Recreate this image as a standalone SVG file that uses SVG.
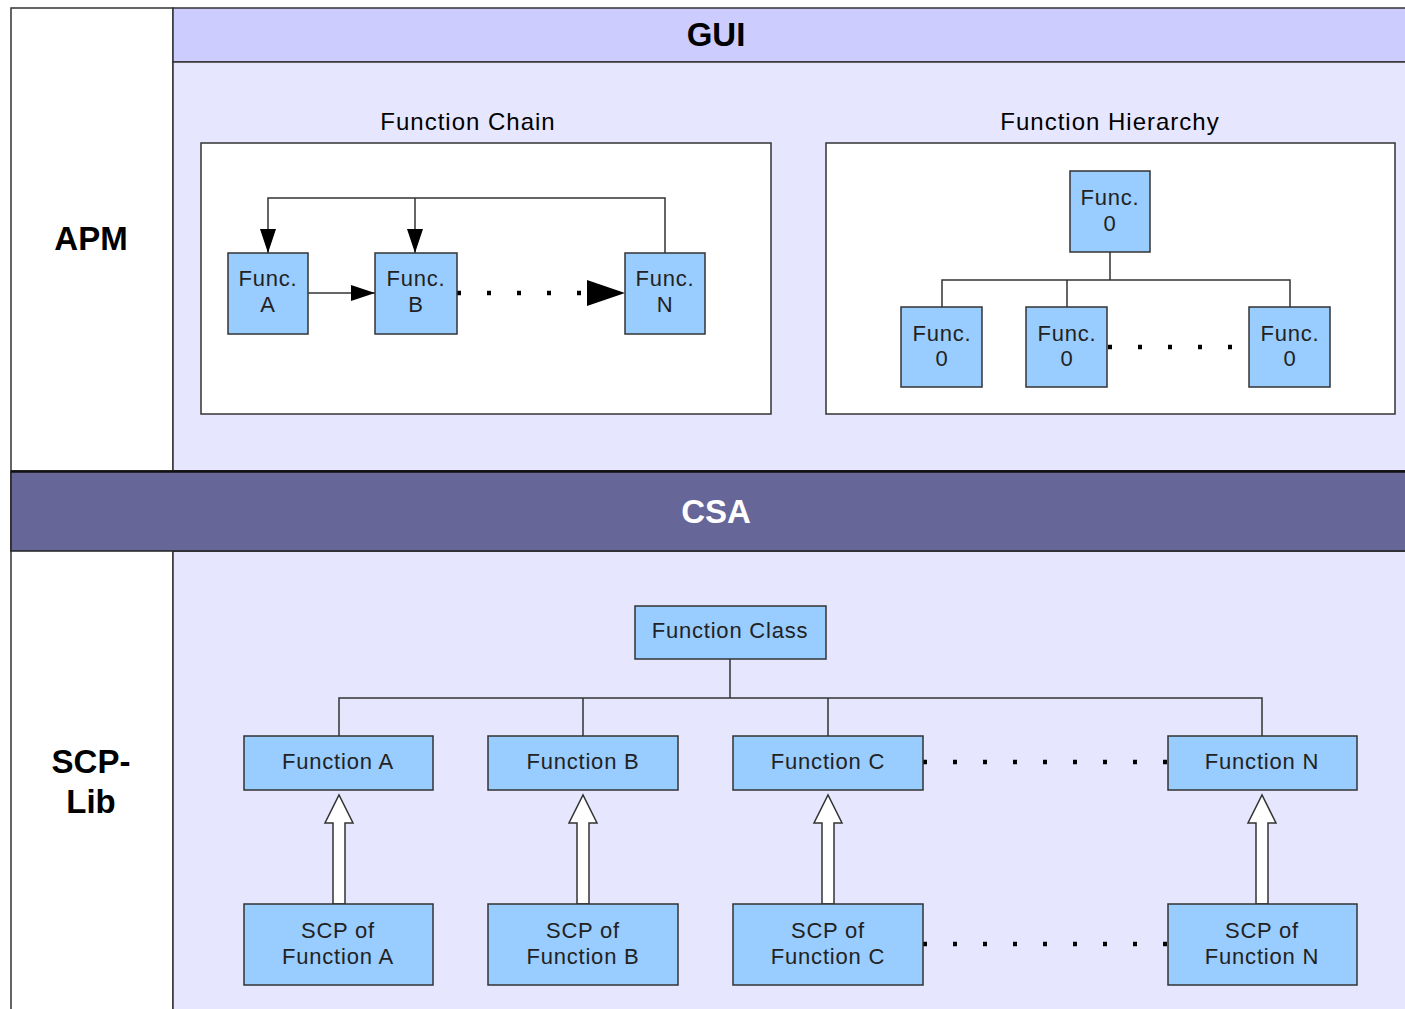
<svg xmlns="http://www.w3.org/2000/svg" width="1405" height="1009" viewBox="0 0 1405 1009">
<defs>
<style>
.lane{fill:#E6E6FF;stroke:#333;stroke-width:1.5}
.side{fill:#FFFFFF;stroke:#333;stroke-width:1.5}
.frame{fill:#FFFFFF;stroke:#333;stroke-width:1.5}
.node{fill:#99CCFF;stroke:#333;stroke-width:1.5}
.ln{fill:none;stroke:#333;stroke-width:1.5}
.dots{fill:none;stroke:#000;stroke-width:4.5;stroke-dasharray:4 26}
.hollow{fill:#FFFFFF;stroke:#333;stroke-width:1.5}
.big{font-family:"Liberation Sans",Arial,sans-serif;font-weight:bold;font-size:33px;text-anchor:middle;fill:#000}
.title{font-family:"Liberation Sans",Arial,sans-serif;font-size:24px;text-anchor:middle;fill:#000;letter-spacing:1px}
.lbl{font-family:"Liberation Sans",Arial,sans-serif;font-size:22px;text-anchor:middle;fill:#222;letter-spacing:0.8px}
</style>
<marker id="ah" viewBox="0 0 24 16" refX="24" refY="8" markerWidth="24" markerHeight="16" markerUnits="userSpaceOnUse" orient="auto">
<path d="M0,0 L24,8 L0,16 z" fill="#000"/>
</marker>
<marker id="ahBig" viewBox="0 0 38 26" refX="38" refY="13" markerWidth="38" markerHeight="26" markerUnits="userSpaceOnUse" orient="auto">
<path d="M0,0 L38,13 L0,26 z" fill="#000"/>
</marker>
</defs>

<g id="lanes">
<rect class="side" x="11" y="8" width="162" height="1010"/>
<rect x="173" y="8" width="1240" height="54" fill="#CCCCFF" stroke="#333" stroke-width="1.5"/>
<rect class="lane" x="173" y="62" width="1240" height="409"/>
<rect class="lane" x="173" y="551" width="1240" height="470"/>
<rect x="11" y="471" width="1402" height="80" fill="#666699" stroke="#222" stroke-width="1.5"/>
<line x1="11" y1="471.5" x2="1405" y2="471.5" stroke="#111" stroke-width="2.5"/>
<text class="big" x="716" y="46">GUI</text>
<text class="big" x="91" y="250">APM</text>
<text class="big" x="716" y="523" style="fill:#FFFFFF">CSA</text>
<text class="big" x="91" y="773">SCP-</text>
<text class="big" x="91" y="813">Lib</text>
</g>

<g id="function-chain">
<text class="title" x="468" y="130">Function Chain</text>
<rect class="frame" x="201" y="143" width="570" height="271"/>
</g>

<g id="function-hierarchy">
<text class="title" x="1110" y="130">Function Hierarchy</text>
<rect class="frame" x="826" y="143" width="569" height="271"/>
</g>

<g id="connectors">
<path class="ln" d="M665,253 V198 H268 V253" marker-end="url(#ah)"/>
<path class="ln" d="M415,198 V253" marker-end="url(#ah)"/>
<path class="ln" d="M308,293 H375" marker-end="url(#ah)"/>
<line class="dots" x1="457" y1="293" x2="600" y2="293"/>
<path d="M587,293 H625" fill="none" stroke="none" marker-end="url(#ahBig)"/>
<path class="ln" d="M1110,252 V280 M942,307 V280 H1290 V307 M1067,280 V307"/>
<line class="dots" x1="1108" y1="347" x2="1250" y2="347"/>
<path class="ln" d="M730,659 V698 M339,736 V698 H1262 V736 M583,698 V736 M828,698 V736"/>
<line class="dots" x1="923" y1="762" x2="1170" y2="762"/>
<line class="dots" x1="923" y1="944" x2="1170" y2="944"/>
<polygon class="hollow" points="333,904 333,823 325,823 339,795 353,823 345,823 345,904"/>
<polygon class="hollow" points="577,904 577,823 569,823 583,795 597,823 589,823 589,904"/>
<polygon class="hollow" points="822,904 822,823 814,823 828,795 842,823 834,823 834,904"/>
<polygon class="hollow" points="1256,904 1256,823 1248,823 1262,795 1276,823 1268,823 1268,904"/>
</g>

<g id="func-a"><rect class="node" x="228" y="253" width="80" height="81"/><text class="lbl" x="268" y="286">Func.</text><text class="lbl" x="268" y="312">A</text></g>
<g id="func-b"><rect class="node" x="375" y="253" width="82" height="81"/><text class="lbl" x="416" y="286">Func.</text><text class="lbl" x="416" y="312">B</text></g>
<g id="func-n"><rect class="node" x="625" y="253" width="80" height="81"/><text class="lbl" x="665" y="286">Func.</text><text class="lbl" x="665" y="312">N</text></g>

<g id="func-0-top"><rect class="node" x="1070" y="171" width="80" height="81"/><text class="lbl" x="1110" y="205">Func.</text><text class="lbl" x="1110" y="231">0</text></g>
<g id="func-0-a"><rect class="node" x="901" y="307" width="81" height="80"/><text class="lbl" x="942" y="341">Func.</text><text class="lbl" x="942" y="366">0</text></g>
<g id="func-0-b"><rect class="node" x="1026" y="307" width="81" height="80"/><text class="lbl" x="1067" y="341">Func.</text><text class="lbl" x="1067" y="366">0</text></g>
<g id="func-0-c"><rect class="node" x="1249" y="307" width="81" height="80"/><text class="lbl" x="1290" y="341">Func.</text><text class="lbl" x="1290" y="366">0</text></g>

<g id="function-class"><rect class="node" x="635" y="606" width="191" height="53"/><text class="lbl" x="730" y="638">Function Class</text></g>

<g id="function-a"><rect class="node" x="244" y="736" width="189" height="54"/><text class="lbl" x="338" y="769">Function A</text></g>
<g id="function-b"><rect class="node" x="488" y="736" width="190" height="54"/><text class="lbl" x="583" y="769">Function B</text></g>
<g id="function-c"><rect class="node" x="733" y="736" width="190" height="54"/><text class="lbl" x="828" y="769">Function C</text></g>
<g id="function-n"><rect class="node" x="1168" y="736" width="189" height="54"/><text class="lbl" x="1262" y="769">Function N</text></g>

<g id="scp-a"><rect class="node" x="244" y="904" width="189" height="81"/><text class="lbl" x="338" y="938">SCP of</text><text class="lbl" x="338" y="964">Function A</text></g>
<g id="scp-b"><rect class="node" x="488" y="904" width="190" height="81"/><text class="lbl" x="583" y="938">SCP of</text><text class="lbl" x="583" y="964">Function B</text></g>
<g id="scp-c"><rect class="node" x="733" y="904" width="190" height="81"/><text class="lbl" x="828" y="938">SCP of</text><text class="lbl" x="828" y="964">Function C</text></g>
<g id="scp-n"><rect class="node" x="1168" y="904" width="189" height="81"/><text class="lbl" x="1262" y="938">SCP of</text><text class="lbl" x="1262" y="964">Function N</text></g>
</svg>
